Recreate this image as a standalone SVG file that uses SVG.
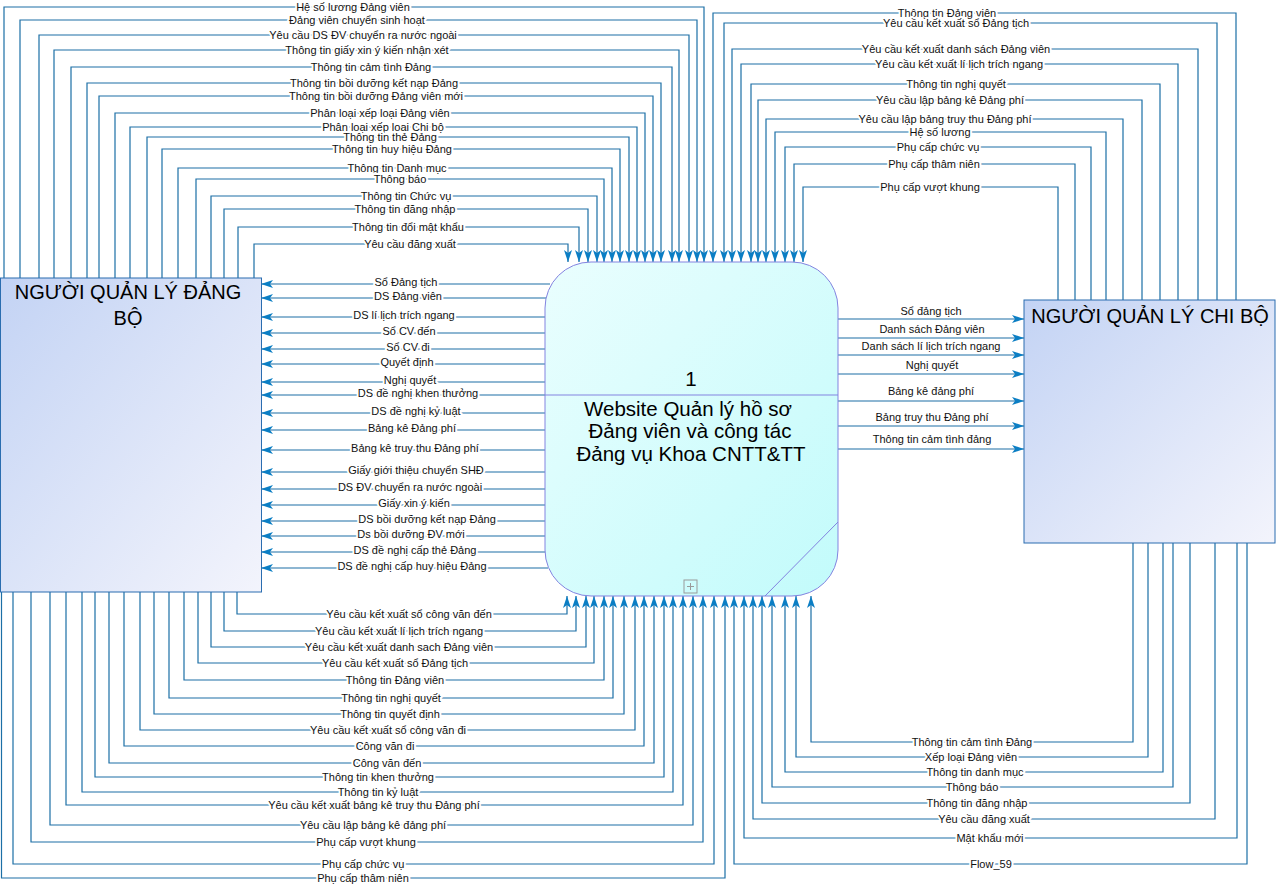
<svg xmlns="http://www.w3.org/2000/svg" width="1276" height="887" viewBox="0 0 1276 887">
<style>
.c{fill:none;stroke:#1c6fa6;stroke-width:1.2;marker-end:url(#ah)}
.l{font-family:"Liberation Sans",Arial,sans-serif;font-size:11px;fill:#111;text-anchor:middle;stroke:#fff;stroke-width:4;paint-order:stroke;stroke-linejoin:round}
.l2{font-family:"Liberation Sans",Arial,sans-serif;font-size:11px;fill:#111;text-anchor:middle}
.t{font-family:"Liberation Sans",Arial,sans-serif;font-size:20px;fill:#000;text-anchor:middle}
.tp{font-family:"Liberation Sans",Arial,sans-serif;font-size:20.5px;fill:#000;text-anchor:middle}
</style>
<defs>
<marker id="ah" viewBox="0 0 12 8" refX="12" refY="4" markerWidth="12" markerHeight="8" markerUnits="userSpaceOnUse" orient="auto"><path d="M0,0 L12,4 L0,8 L3,4 z" fill="#0b7ec4"/></marker>
<linearGradient id="ge" x1="0" y1="0" x2="1" y2="1"><stop offset="0" stop-color="#c3d3f4"/><stop offset="1" stop-color="#f3f4fc"/></linearGradient>
<linearGradient id="gp" x1="0" y1="0" x2="1" y2="1"><stop offset="0" stop-color="#eafefe"/><stop offset="1" stop-color="#c2fbfb"/></linearGradient>
</defs>
<rect width="1276" height="887" fill="#fff"/>
<g id="connectors">
<g><path class="c" d="M4,278V7H704V262"/><text class="l" x="353" y="11">Hệ số lương Đảng viên</text></g>
<g><path class="c" d="M20,278V20H697V262"/><text class="l" x="357" y="24">Đảng viên chuyển sinh hoạt</text></g>
<g><path class="c" d="M39,278V35H689V262"/><text class="l" x="363" y="39">Yêu cầu DS ĐV chuyển ra nước ngoài</text></g>
<g><path class="c" d="M54,278V50H679V262"/><text class="l" x="367" y="54">Thông tin giấy xin ý kiến nhận xét</text></g>
<g><path class="c" d="M71,278V67H672V262"/><text class="l" x="371" y="71">Thông tin cảm tình Đảng</text></g>
<g><path class="c" d="M87,278V83H661V262"/><text class="l" x="374" y="87">Thông tin bồi dưỡng kết nạp Đảng</text></g>
<g><path class="c" d="M99,278V96H653V262"/><text class="l" x="376" y="100">Thông tin bồi dưỡng Đảng viên mới</text></g>
<g><path class="c" d="M115,278V113H645V262"/><text class="l" x="380" y="117">Phân loại xếp loại Đảng viên</text></g>
<g><path class="c" d="M130,278V127H637V262"/><text class="l" x="383" y="131">Phân loại xếp loại Chi bộ</text></g>
<g><path class="c" d="M147,278V137H629V262"/><text class="l" x="390" y="141">Thông tin thẻ Đảng</text></g>
<g><path class="c" d="M162,278V149H620V262"/><text class="l" x="392" y="153">Thông tin huy hiệu Đảng</text></g>
<g><path class="c" d="M178,278V168H612V262"/><text class="l" x="397" y="172">Thông tin Danh mục</text></g>
<g><path class="c" d="M196,278V179H604V262"/><text class="l" x="400" y="183">Thông báo</text></g>
<g><path class="c" d="M211,278V196H597V262"/><text class="l" x="406" y="200">Thông tin Chức vụ</text></g>
<g><path class="c" d="M224,278V209H588V262"/><text class="l" x="405" y="213">Thông tin đăng nhập</text></g>
<g><path class="c" d="M238,278V227H579V262"/><text class="l" x="408" y="231">Thông tin đổi mật khẩu</text></g>
<g><path class="c" d="M254,278V244H568V262"/><text class="l" x="410" y="248">Yêu cầu đăng xuất</text></g>

<g><path class="c" d="M1236,300V13H713V262"/><text class="l" x="947" y="17">Thông tin Đảng viên</text></g>
<g><path class="c" d="M1217,300V23H724V262"/><text class="l" x="956" y="27">Yêu cầu kết xuất sổ Đảng tịch</text></g>
<g><path class="c" d="M1198,300V49H732V262"/><text class="l" x="956" y="53">Yêu cầu kết xuất danh sách Đảng viên</text></g>
<g><path class="c" d="M1178,300V64H741V262"/><text class="l" x="959" y="68">Yêu cầu kết xuất lí lịch trích ngang</text></g>
<g><path class="c" d="M1160,300V84H751V262"/><text class="l" x="956" y="88">Thông tin nghị quyết</text></g>
<g><path class="c" d="M1142,300V100H758V262"/><text class="l" x="950" y="104">Yêu cầu lập bảng kê Đảng phí</text></g>
<g><path class="c" d="M1123,300V119H766V262"/><text class="l" x="945" y="123">Yêu cầu lập bảng truy thu Đảng phí</text></g>
<g><path class="c" d="M1106,300V132H775V262"/><text class="l" x="940" y="136">Hệ số lương</text></g>
<g><path class="c" d="M1091,300V147H785V262"/><text class="l" x="938" y="151">Phụ cấp chức vụ</text></g>
<g><path class="c" d="M1075,300V164H794V262"/><text class="l" x="934" y="168">Phụ cấp thâm niên</text></g>
<g><path class="c" d="M1058,300V187H803V262"/><text class="l" x="930" y="191">Phụ cấp vượt khung</text></g>

<g><path class="c" d="M550,284H261"/><text class="l" x="406" y="286">Sổ Đảng tịch</text></g>
<g><path class="c" d="M547,298H261"/><text class="l" x="408" y="300">DS Đảng viên</text></g>
<g><path class="c" d="M546,317H261"/><text class="l" x="404" y="319">DS lí lịch trích ngang</text></g>
<g><path class="c" d="M546,333H261"/><text class="l" x="409" y="335">Sổ CV đến</text></g>
<g><path class="c" d="M546,349H261"/><text class="l" x="408" y="351">Sổ CV đi</text></g>
<g><path class="c" d="M546,364H261"/><text class="l" x="407" y="366">Quyết định</text></g>
<g><path class="c" d="M546,382H261"/><text class="l" x="410" y="384">Nghị quyết</text></g>
<g><path class="c" d="M546,395H261"/><text class="l" x="418" y="397">DS đề nghị khen thưởng</text></g>
<g><path class="c" d="M546,413H261"/><text class="l" x="416" y="415">DS đề nghị kỷ luật</text></g>
<g><path class="c" d="M546,430H261"/><text class="l" x="412" y="432">Bảng kê Đảng phí</text></g>
<g><path class="c" d="M546,450H261"/><text class="l" x="415" y="452">Bảng kê truy thu Đảng phí</text></g>
<g><path class="c" d="M546,472H261"/><text class="l" x="416" y="474">Giấy giới thiệu chuyển SHĐ</text></g>
<g><path class="c" d="M546,489H261"/><text class="l" x="410" y="491">DS ĐV chuyển ra nước ngoài</text></g>
<g><path class="c" d="M546,505H261"/><text class="l" x="414" y="507">Giấy xin ý kiến</text></g>
<g><path class="c" d="M546,521H261"/><text class="l" x="427" y="523">DS bồi dưỡng kết nạp Đảng</text></g>
<g><path class="c" d="M546,536H261"/><text class="l" x="411" y="538">Ds bồi dưỡng ĐV mới</text></g>
<g><path class="c" d="M547,552H261"/><text class="l" x="415" y="554">DS đề nghị cấp thẻ Đảng</text></g>
<g><path class="c" d="M548,568H261"/><text class="l" x="412" y="570">DS đề nghị cấp huy hiệu Đảng</text></g>

<g><path class="c" d="M838,319H1024"/><text class="l2" x="931" y="315">Sổ đảng tịch</text></g>
<g><path class="c" d="M838,338H1024"/><text class="l2" x="932" y="333">Danh sách Đảng viên</text></g>
<g><path class="c" d="M838,355H1024"/><text class="l2" x="931" y="350">Danh sách lí lịch trích ngang</text></g>
<g><path class="c" d="M838,374H1024"/><text class="l2" x="932" y="369">Nghị quyết</text></g>
<g><path class="c" d="M838,401H1024"/><text class="l2" x="931" y="395">Bảng kê đảng phí</text></g>
<g><path class="c" d="M838,426H1024"/><text class="l2" x="932" y="421">Bảng truy thu Đảng phí</text></g>
<g><path class="c" d="M838,449H1024"/><text class="l2" x="932" y="443">Thông tin cảm tình đảng</text></g>

<g><path class="c" d="M237,592V614H567V596"/><text class="l" x="409" y="618">Yêu cầu kết xuất sổ công văn đến</text></g>
<g><path class="c" d="M224,592V631H576V596"/><text class="l" x="399" y="635">Yêu cầu kết xuất lí lịch trích ngang</text></g>
<g><path class="c" d="M211,592V647H586V596"/><text class="l" x="399" y="651">Yêu cầu kết xuất danh sach Đảng viên</text></g>
<g><path class="c" d="M198,592V663H594V596"/><text class="l" x="395" y="667">Yêu cầu kết xuất sổ Đảng tịch</text></g>
<g><path class="c" d="M184,592V680H604V596"/><text class="l" x="395" y="684">Thông tin Đảng viên</text></g>
<g><path class="c" d="M169,592V698H613V596"/><text class="l" x="391" y="702">Thông tin nghị quyết</text></g>
<g><path class="c" d="M154,592V714H624V596"/><text class="l" x="390" y="718">Thông tin quyết định</text></g>
<g><path class="c" d="M140,592V730H635V596"/><text class="l" x="388" y="734">Yêu cầu kết xuất sổ công văn đi</text></g>
<g><path class="c" d="M124,592V746H644V596"/><text class="l" x="385" y="750">Công văn đi</text></g>
<g><path class="c" d="M109,592V763H654V596"/><text class="l" x="387" y="767">Công văn đến</text></g>
<g><path class="c" d="M95,592V777H664V596"/><text class="l" x="378" y="781">Thông tin khen thưởng</text></g>
<g><path class="c" d="M82,592V792H673V596"/><text class="l" x="378" y="796">Thông tin kỷ luật</text></g>
<g><path class="c" d="M66,592V805H683V596"/><text class="l" x="374" y="809">Yêu cầu kết xuất bảng kê truy thu Đảng phí</text></g>
<g><path class="c" d="M50,592V825H693V596"/><text class="l" x="373" y="829">Yêu cầu lập bảng kê đảng phí</text></g>
<g><path class="c" d="M31,592V842H703V596"/><text class="l" x="366" y="846">Phụ cấp vượt khung</text></g>
<g><path class="c" d="M13,592V864H714V596"/><text class="l" x="363" y="868">Phụ cấp chức vụ</text></g>
<g><path class="c" d="M1.5,592V878H725V596"/><text class="l" x="363" y="882">Phụ cấp thâm niên</text></g>

<g><path class="c" d="M1133,543V742H811V596"/><text class="l" x="972" y="746">Thông tin cảm tình Đảng</text></g>
<g><path class="c" d="M1148,543V757H796V596"/><text class="l" x="971" y="761">Xếp loại Đảng viên</text></g>
<g><path class="c" d="M1163,543V772H785V596"/><text class="l" x="975" y="776">Thông tin danh mục</text></g>
<g><path class="c" d="M1173,543V787H772V596"/><text class="l" x="972" y="791">Thông báo</text></g>
<g><path class="c" d="M1190,543V803H762V596"/><text class="l" x="977" y="807">Thông tin đăng nhập</text></g>
<g><path class="c" d="M1215,543V819H753V596"/><text class="l" x="984" y="823">Yêu cầu đăng xuất</text></g>
<g><path class="c" d="M1237,543V838H744V596"/><text class="l" x="990" y="842">Mật khẩu mới</text></g>
<g><path class="c" d="M1247,543V864H734V596"/><text class="l" x="991" y="868">Flow_59</text></g>
</g>

<g id="node-dangbo">
<rect x="0.5" y="278" width="261" height="314" fill="url(#ge)" stroke="#2a6db0" stroke-width="1"/>
<text class="t" x="128" y="299">NGƯỜI QUẢN LÝ ĐẢNG</text>
<text class="t" x="128" y="325">BỘ</text>
</g>
<g id="node-chibo">
<rect x="1024" y="300" width="251" height="243" fill="url(#ge)" stroke="#2a6db0" stroke-width="1"/>
<text class="t" x="1150" y="323">NGƯỜI QUẢN LÝ CHI BỘ</text>
</g>
<g id="node-process">
<rect x="545" y="262" width="293" height="334" rx="46" ry="46" fill="url(#gp)" stroke="#8383e0" stroke-width="1"/>
<line x1="545" y1="395" x2="838" y2="395" stroke="#8383e0" stroke-width="1"/>
<line x1="838" y1="522" x2="765" y2="596" stroke="#8383e0" stroke-width="1"/>
<rect x="684" y="580" width="13" height="13" fill="none" stroke="#9a9a9a" stroke-width="1"/>
<path d="M690.5,583V590M687,586.5H694" stroke="#9a9a9a" stroke-width="1"/>
<text class="tp" x="691" y="386">1</text>
<text class="tp" x="688" y="416">Website Quản lý hồ sơ</text>
<text class="tp" x="690" y="438">Đảng viên và công tác</text>
<text class="tp" x="691" y="461">Đảng vụ Khoa CNTT&amp;TT</text>
</g>
</svg>
